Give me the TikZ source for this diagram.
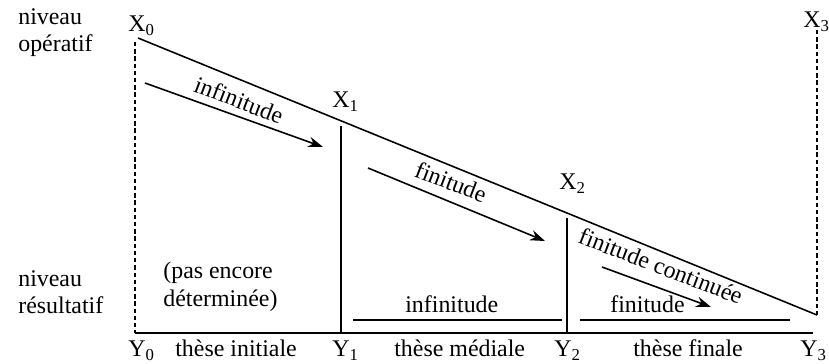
\documentclass[tikz,border=0pt]{standalone}
\usepackage{fontspec}
\setmainfont{Liberation Serif}
\usetikzlibrary{arrows.meta}

\begin{document}
\begin{tikzpicture}[
    x=0.02cm, y=-0.02cm,
    every node/.style={font=\fontsize{13.6}{15.6}\selectfont, inner sep=0pt},
    txt/.style={anchor=base west},
    stack/.style={anchor=north west, align=left},
    line/.style={line width=0.9pt},
    guide/.style={line width=0.9pt, dash pattern=on 2.5pt off 1.6pt},
    arrow/.style={->, line width=0.9pt, >={Stealth[length=8.5pt,width=6pt]}},
    slant/.style={rotate=-21}
  ]
    \useasboundingbox (0,0) rectangle (829,364);

    % frame of the two levels
    \coordinate (o0) at (138,38);
    \coordinate (o3) at (817,315);
    \coordinate (d0) at (135,42);
    \coordinate (r0) at (135,333);
    \coordinate (d3) at (817,30);
    \coordinate (r3) at (813,333);
    \coordinate (o1) at (341,126);
    \coordinate (r1) at (341,333);
    \coordinate (o2) at (567,218);
    \coordinate (r2) at (567,333);

    \draw[line] (o0) -- (o3);
    \draw[line] (r0) -- (r3);
    \draw[guide] (d0) -- (r0);
    \draw[guide] (d3) -- (o3);
    \draw[line] (o1) -- (r1);
    \draw[line] (o2) -- (r2);

    % level names
    \node[stack] (op) at (18,8) {niveau\\op\'eratif};
    \node[stack] (res) at (18,270) {niveau\\r\'esultatif};

    % points
    \node[txt] (X0) at (128,32) {X\textsubscript{0}};
    \node[txt] (X1) at (332,108) {X\textsubscript{1}};
    \node[txt] (X2) at (559,190) {X\textsubscript{2}};
    \node[txt] (X3) at (803,28) {X\textsubscript{3}};
    \node[txt] (Y0) at (128,357) {Y\textsubscript{0}};
    \node[txt] (Y1) at (332,357) {Y\textsubscript{1}};
    \node[txt] (Y2) at (554,357) {Y\textsubscript{2}};
    \node[txt] (Y3) at (800,357) {Y\textsubscript{3}};

    % theses
    \node[txt] (ini) at (175,357) {th\`ese initiale};
    \node[txt] (med) at (394,357) {th\`ese m\'ediale};
    \node[txt] (fin) at (633,357) {th\`ese finale};

    % movement
    \coordinate (a1s) at (145,83);
    \coordinate (a1e) at (323,147);
    \coordinate (a2s) at (368,168);
    \coordinate (a2e) at (545,241);
    \coordinate (a3s) at (602,267);
    \coordinate (a3e) at (711,307);
    \draw[arrow] (a1s) -- (a1e);
    \draw[arrow] (a2s) -- (a2e);
    \draw[arrow] (a3s) -- (a3e);
    \node[slant] (m1) at (239,100) {infinitude};
    \node[slant] (m2) at (451,182) {finitude};
    \node[slant] (m3) at (661,266) {finitude continu\'ee};

    % results
    \node[stack] (nd) at (163,262) {(pas encore\\d\'etermin\'ee)};
    \node[txt] (r1t) at (405,313) {infinitude};
    \node[txt] (r2t) at (610,313) {finitude};
    \coordinate (u1s) at (353,320);
    \coordinate (u1e) at (562,320);
    \coordinate (u2s) at (580,320);
    \coordinate (u2e) at (790,320);
    \draw[line] (u1s) -- (u1e);
    \draw[line] (u2s) -- (u2e);
\end{tikzpicture}
\end{document}
